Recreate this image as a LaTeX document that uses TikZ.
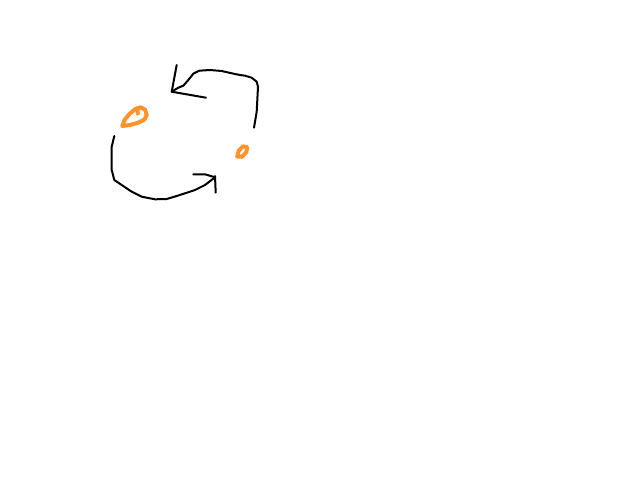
\documentclass[tikz,border=0pt]{standalone}
\begin{document}
\begin{tikzpicture}[x=1pt,y=-1pt,
  ink/.style={draw=black,line width=2pt,line cap=round,line join=round},
  marker/.style={draw=orangeink,line width=4pt,line cap=round,line join=round}]
\definecolor{orangeink}{RGB}{255,147,41}
\useasboundingbox[fill=white] (0,0) rectangle (640,480);
% top arrow
\coordinate (ta) at (171.7,91.7);
\draw[ink] (254,127.7) -- (256.7,111.7) -- (258,86.7) -- (256.7,81.7) -- (251.7,77.7) -- (245,75.7) -- (240,75) -- (231.7,73.3) -- (221.7,71) -- (210,70) -- (199.3,70.7) -- (193.3,73.7) -- (188.3,80) -- (183.3,85.7) -- (178.3,87.7) -- (ta);
\draw[ink] (176.7,65) -- (ta) -- (206,97.7);
% bottom arrow
\coordinate (ba) at (215,177.3);
\draw[ink] (114.3,136) -- (111.7,146.7) -- (111.7,170) -- (114.3,180) -- (121.7,185) -- (131.7,191.7) -- (141.7,196.7) -- (155,199.3) -- (166.7,199) -- (176.7,196) -- (185,193.3) -- (195,190) -- (205,185) -- (ba);
\draw[ink] (193.3,174.3) -- (205,174.3) -- (ba);
\draw[ink] (215,176) -- (215.7,192.7);
% orange marks
\draw[marker] (122.3,126) -- (124.8,119.5) -- (129.5,114) -- (135,109.3) -- (140.5,107.3) -- (145,109.5) -- (146.7,115) -- (144.5,119.5) -- (138.3,122.7) -- (130,125) -- cycle;
\draw[marker] (137.5,108) -- (137.8,113.5);
\draw[marker] (237.2,156.5) -- (238.7,150.8) -- (243,146.3) -- (247.3,147.2) -- (246.3,152.2) -- (242,156.8) -- cycle;
\end{tikzpicture}
\end{document}
